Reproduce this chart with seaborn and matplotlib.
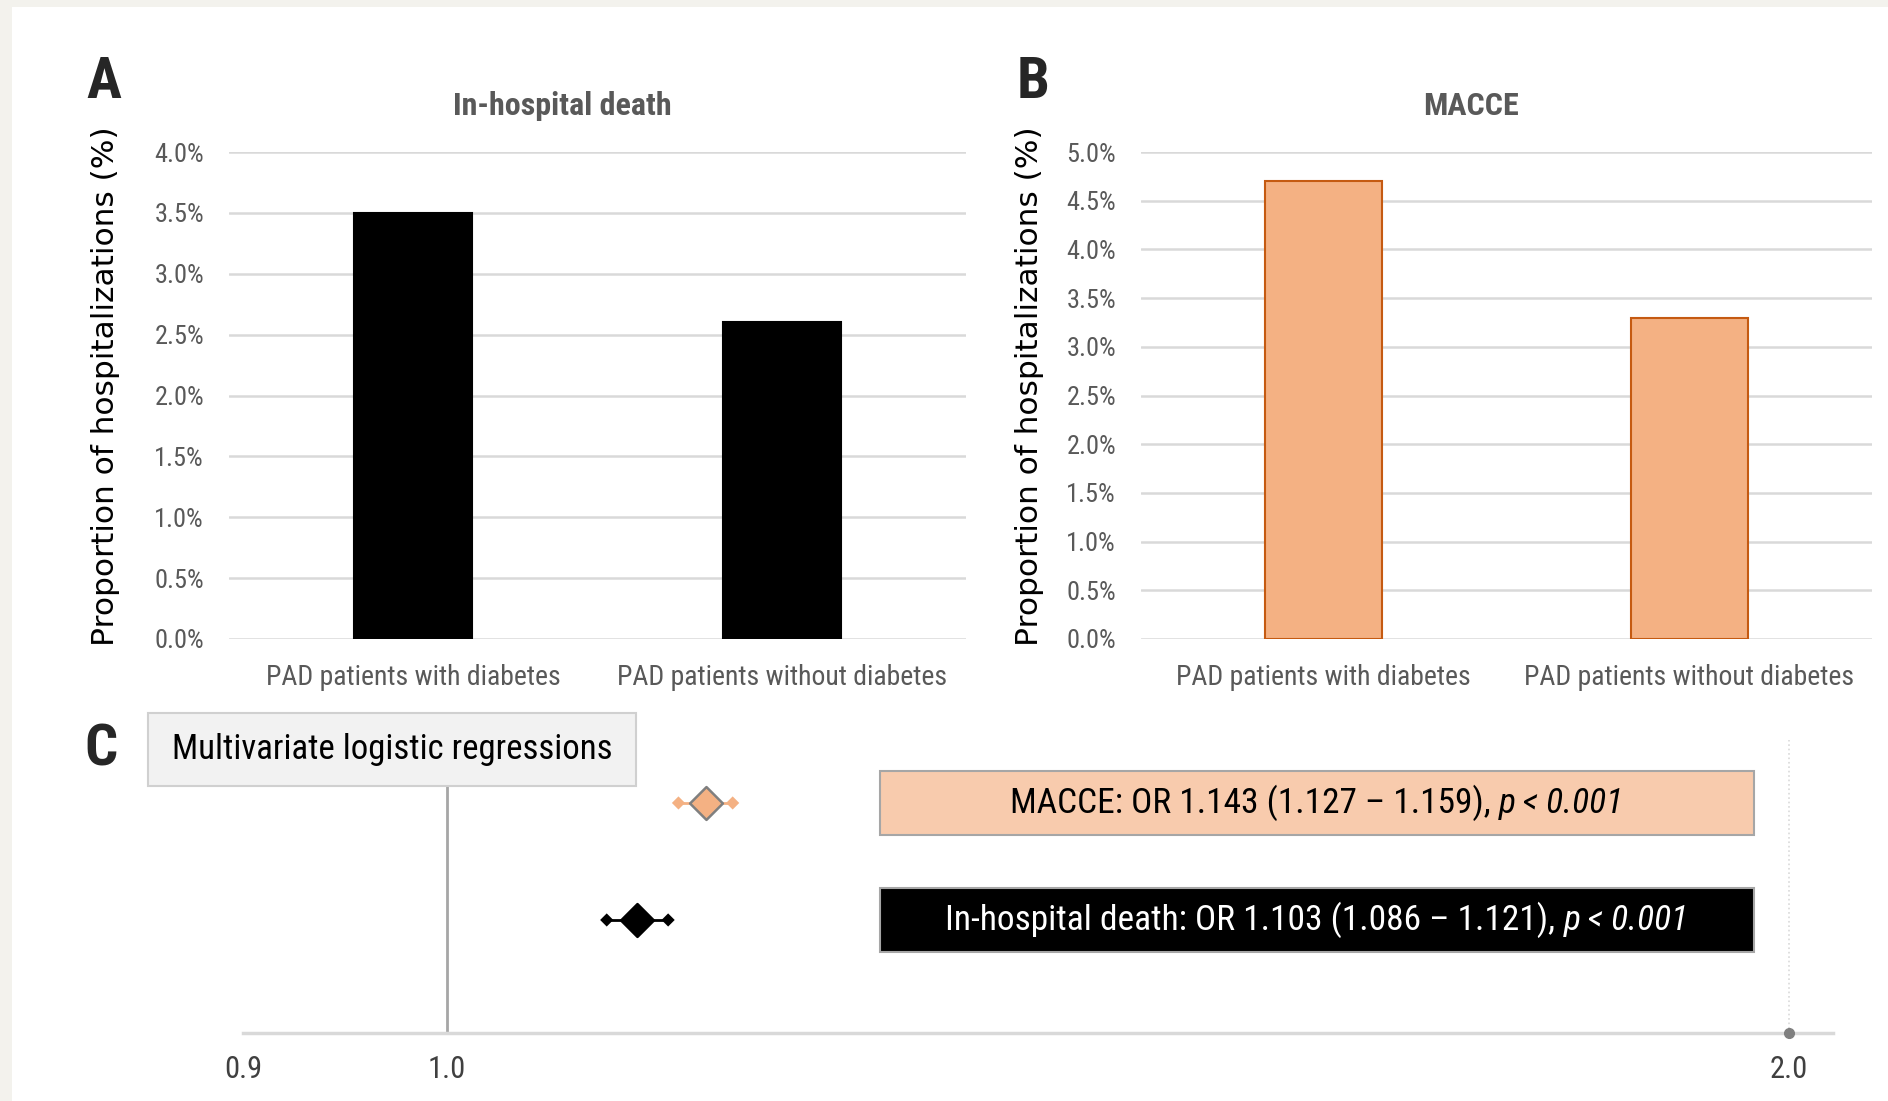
import numpy as np
import pandas as pd
import matplotlib
matplotlib.use("Agg")
import matplotlib.pyplot as plt
import seaborn as sns
from matplotlib import font_manager
from matplotlib.patches import Rectangle
from matplotlib.transforms import blended_transform_factory
from matplotlib.ticker import FixedLocator, FixedFormatter, NullLocator

# ---------------- data ----------------
groups = ["PAD patients with diabetes", "PAD patients without diabetes"]
death_pct = [3.5, 2.6]
macce_pct = [4.7, 3.3]
death_ticks = [0.0, 0.5, 1.0, 1.5, 2.0, 2.5, 3.0, 3.5, 4.0]
macce_ticks = [0.0, 0.5, 1.0, 1.5, 2.0, 2.5, 3.0, 3.5, 4.0, 4.5, 5.0]

or_outcomes = ["MACCE", "In-hospital death"]
or_est = [1.143, 1.103]
or_lo = [1.127, 1.086]
or_hi = [1.159, 1.121]
or_p = ["p < 0.001", "p < 0.001"]
or_ticks = [0.9, 1.0, 2.0]
or_ticklabels = ["0.9", "1.0", "2.0"]

# ---------------- style ----------------
sns.set_theme(style="white")
avail = {f.name for f in font_manager.fontManager.ttflist}
def pick(*names):
    for n in names:
        if n in avail:
            return n
    return "DejaVu Sans"
NARROW = pick("Liberation Sans Narrow", "Roboto Condensed", "Liberation Sans")
WIDE = pick("DejaVu Sans")
plt.rcParams["font.family"] = [NARROW, "DejaVu Sans"]

ORANGE = "#f4b183"
ORANGE_EDGE = "#c55a11"
PEACH = "#f8cbad"
GRID = "#d9d9d9"
TXT = "#595959"

W, H = 1888, 1101
fig = plt.figure(figsize=(W / 100, H / 100), dpi=100)
fig.patch.set_facecolor("#f3f2ed")
fig.add_artist(Rectangle((12 / W, 0), 1 - 12 / W, (H - 7) / H, transform=fig.transFigure,
                         facecolor="white", edgecolor="none", zorder=-10))

def px_axes(x0, x1, ytop, ybot):
    return fig.add_axes([x0 / W, (H - ybot) / H, (x1 - x0) / W, (ybot - ytop) / H])

def bar_panel(ax, values, ticks, color, edge, title, title_x, ylabel_x):
    df = pd.DataFrame({"group": groups, "pct": values})
    sns.barplot(data=df, x="group", y="pct", ax=ax, color=color, saturation=1,
                width=0.32, edgecolor=edge, linewidth=1.5)
    ax.set_facecolor("none")
    ax.set_xlim(-0.5, 1.5)
    ax.set_ylim(0, ticks[-1])
    ax.set_yticks(ticks)
    ax.set_yticklabels([f"{t:.1f}%" for t in ticks])
    ax.yaxis.grid(True, color=GRID, lw=1.8)
    ax.set_axisbelow(True)
    for s in ax.spines.values():
        s.set_visible(False)
    ax.tick_params(axis="y", length=0, colors=TXT, labelsize=19, pad=18)
    ax.tick_params(axis="x", length=0, colors=TXT, labelsize=20, pad=18)
    ax.set_xlabel("")
    ax.set_ylabel("Proportion of hospitalizations (%)", family=WIDE, fontsize=22.5, color="black")
    ax.yaxis.set_label_coords(ylabel_x, 0.52)
    ax.text(title_x, 1.094, title, transform=ax.transAxes, ha="center", va="center",
            fontsize=23, fontweight="bold", color=TXT)

axA = px_axes(229, 966, 152, 639)
bar_panel(axA, death_pct, death_ticks, "black", "black", "In-hospital death", 0.452, -0.148)
axB = px_axes(1141, 1872, 152, 639)
bar_panel(axB, macce_pct, macce_ticks, ORANGE, ORANGE_EDGE, "MACCE", 0.451, -0.133)

fig.text(104 / W, 1 - 82 / H, "A", ha="center", va="center", fontsize=42, fontweight="bold")
fig.text(1033 / W, 1 - 82 / H, "B", ha="center", va="center", fontsize=42, fontweight="bold")
fig.text(101 / W, 1 - 750 / H, "C", ha="center", va="center", fontsize=42, fontweight="bold")

# ---------------- panel C: forest plot ----------------
axC = px_axes(243, 1833, 700, 1033)
axC.set_facecolor("none")
axC.set_xscale("log")
axC.set_xlim(0.9, 2.046)
axC.set_ylim(-0.966, 1.88)
rows = np.arange(len(or_outcomes))[::-1]
marker_face = [ORANGE, "black"]
marker_edge = ["#7f7f7f", "black"]
line_col = [ORANGE, "black"]
for i, r in enumerate(rows):
    axC.plot([or_lo[i], or_hi[i]], [r, r], color=line_col[i], lw=2, zorder=3)
    axC.scatter([or_lo[i], or_hi[i]], [r, r], marker="D", s=45, color=marker_face[i],
                edgecolors="none", zorder=4)
    axC.scatter([or_est[i]], [r], marker="D", s=280, color=marker_face[i],
                edgecolors=marker_edge[i], linewidths=1.8, zorder=5)

axC.axvline(1.0, ymin=0, ymax=(1033 - 786) / 333, color="#a6a6a6", lw=2, zorder=1)
axC.axvline(2.0, ymin=0, ymax=(1033 - 740) / 333, color=GRID, lw=1.2, ls=":", zorder=1)
axC.plot([2.0], [axC.get_ylim()[0]], "o", color="#7f7f7f", ms=7, clip_on=False, zorder=6)

for k in ["top", "right", "left"]:
    axC.spines[k].set_visible(False)
axC.spines["bottom"].set_color(GRID)
axC.spines["bottom"].set_linewidth(2.5)
axC.xaxis.set_major_locator(FixedLocator(or_ticks))
axC.xaxis.set_major_formatter(FixedFormatter(or_ticklabels))
axC.xaxis.set_minor_locator(NullLocator())
axC.set_yticks([])
axC.tick_params(axis="x", length=0, pad=16, labelsize=22, colors="#404040")

# result boxes
trans = blended_transform_factory(axC.transAxes, axC.transData)
box_x0 = (880 - 243) / 1590
box_x1 = (1754 - 243) / 1590
box_face = [PEACH, "black"]
box_text = ["black", "white"]
box_h = 0.54
FS = 25.5
texts = []
for i, r in enumerate(rows):
    axC.add_patch(Rectangle((box_x0, r - box_h / 2), box_x1 - box_x0, box_h, transform=trans,
                            facecolor=box_face[i], edgecolor="#a6a6a6", lw=1.5, zorder=2))
    s1 = f"{or_outcomes[i]}: OR {or_est[i]:.3f} ({or_lo[i]:.3f} \u2013 {or_hi[i]:.3f}),"
    t1 = axC.text(0, r, s1, transform=trans, ha="left", va="center", fontsize=FS,
                  color=box_text[i], zorder=3)
    t2 = axC.text(0, r, or_p[i], transform=trans, ha="left", va="center", fontsize=FS,
                  color=box_text[i], style="italic", zorder=3)
    texts.append((t1, t2))

fig.canvas.draw()
rend = fig.canvas.get_renderer()
axw = axC.get_window_extent(rend).width
gap = FS * 100 / 72 * 0.25
xc = (box_x0 + box_x1) / 2
for t1, t2 in texts:
    w1 = t1.get_window_extent(rend).width
    w2 = t2.get_window_extent(rend).width
    total = (w1 + gap + w2) / axw
    x0 = xc - total / 2
    t1.set_x(x0)
    t2.set_x(x0 + (w1 + gap) / axw)

# header box for panel C
fig.add_artist(Rectangle((148 / W, 1 - 786 / H), (636 - 148) / W, (786 - 713) / H,
                         transform=fig.transFigure, facecolor="#f2f2f2",
                         edgecolor="#d0d0d0", lw=1.5))
fig.text(392 / W, 1 - 750 / H, "Multivariate logistic regressions", ha="center", va="center",
         fontsize=25, color="black")

fig.savefig("out.png", dpi=100, facecolor=fig.get_facecolor())
